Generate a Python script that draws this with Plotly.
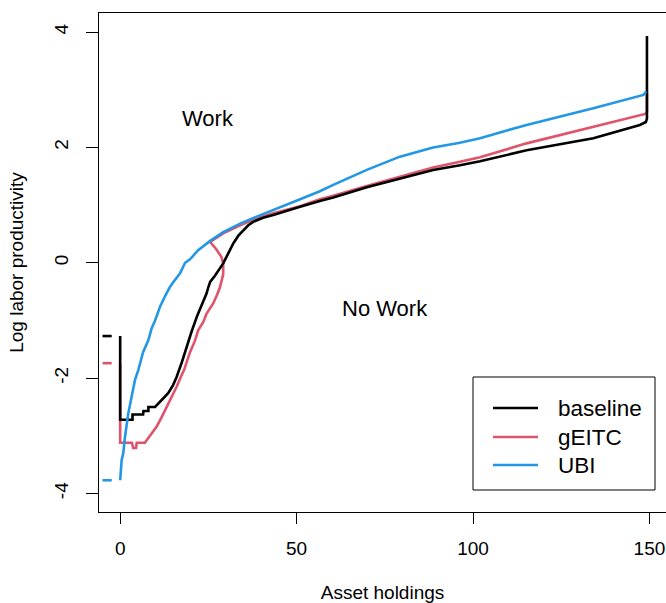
import plotly.graph_objects as go

# ---------------- data ----------------
dash_x = [-5.0, -2.4]

baseline_x = [0, 0, 3.5, 3.5, 6.5, 6.6, 8.0, 8.0, 9.9, 10.8, 12.2, 13.6, 15.0, 16.0, 17.5, 18.8,
              20.2, 21.7, 23.2, 24.5, 25.0, 25.5, 26.9, 29.2, 30.6, 32.1, 33.5, 34.9, 36.3, 37.7,
              40.5, 43.4, 48.1, 51.0, 56.6, 60.4, 69.9, 79.3, 88.7, 96.3, 102.0, 115.2, 134.1,
              147.3, 149.0, 149.3, 149.3]
baseline_y = [-1.27, -2.72, -2.72, -2.63, -2.63, -2.57, -2.57, -2.50, -2.50, -2.44, -2.35, -2.26,
              -2.12, -1.98, -1.72, -1.45, -1.20, -0.94, -0.72, -0.53, -0.42, -0.33, -0.22, -0.01,
              0.16, 0.34, 0.47, 0.57, 0.65, 0.71, 0.78, 0.83, 0.91, 0.97, 1.07, 1.13, 1.31, 1.46,
              1.61, 1.69, 1.76, 1.95, 2.16, 2.39, 2.44, 2.50, 3.93]
baseline_dash_y = -1.27

geitc_x = [0, 0, 3.3, 3.7, 4.5, 4.7, 7.0, 8.0, 8.9, 10.35, 11.8, 13.2, 14.6, 16.0, 17.4, 18.1,
           19.8, 21.2, 22.1, 23.6, 24.5, 26.4, 27.5, 28.3, 29.2, 29.2, 28.7, 27.2, 25.5, 29.2,
           34.0, 38.7, 43.4, 48.1, 51.0, 56.6, 60.4, 69.9, 79.3, 88.7, 96.3, 102.0, 115.2,
           134.1, 148.8, 149.3, 149.3]
geitc_y = [-1.74, -3.12, -3.12, -3.21, -3.21, -3.12, -3.12, -3.04, -2.96, -2.84, -2.67, -2.50,
           -2.32, -2.15, -1.95, -1.86, -1.55, -1.35, -1.17, -1.02, -0.88, -0.70, -0.55, -0.42,
           -0.20, -0.01, 0.10, 0.24, 0.36, 0.51, 0.65, 0.77, 0.86, 0.94, 0.98, 1.10, 1.16, 1.33,
           1.49, 1.65, 1.75, 1.83, 2.07, 2.35, 2.58, 2.62, 2.95]
geitc_dash_y = -1.74

ubi_x = [0, 0.42, 0.88, 1.36, 2.3, 3.26, 4.2, 5.13, 6.5, 8.0, 8.9, 9.9, 11.3, 12.7, 14.1, 15.5,
         17.0, 18.4, 19.8, 22.1, 25.5, 29.2, 34.0, 38.7, 43.4, 51.0, 56.6, 60.4, 69.9, 79.3,
         88.7, 96.3, 102.0, 115.2, 134.1, 148.3, 149.1]
ubi_y = [-3.77, -3.42, -3.30, -3.02, -2.61, -2.32, -2.03, -1.86, -1.55, -1.34, -1.14, -1.00,
         -0.76, -0.58, -0.42, -0.30, -0.18, 0.00, 0.06, 0.22, 0.38, 0.53, 0.68, 0.80, 0.91,
         1.10, 1.24, 1.35, 1.61, 1.84, 2.00, 2.08, 2.16, 2.39, 2.68, 2.91, 2.97]
ubi_dash_y = -3.77

series_names = ["baseline", "gEITC", "UBI"]
series_colors = ["#000000", "#DF536B", "#2297E6"]

x_ticks = [0, 50, 100, 150]
y_ticks = [-4, -2, 0, 2, 4]
y_tick_text = ["-4", "-2", "0", "2", "4"]

region_labels = ["Work", "No Work"]
region_x = [24.9, 75.1]
region_y = [2.50, -0.80]

# ---------------- figure ----------------
FONT = "Liberation Sans, Arial, Helvetica, sans-serif"
W, H = 666, 603
ML, MR, MT, MB = 99, 0, 13, 91
PW, PH = W - ML - MR, H - MT - MB

def px_x(p):  # screen pixel -> paper fraction
    return (p - ML) / PW

def px_y(p):
    return (H - MB - p) / PH

def with_dash(xs, ys, dy):
    return dash_x + [None] + list(xs), [dy, dy] + [None] + list(ys)

data = {
    "baseline": with_dash(baseline_x, baseline_y, baseline_dash_y),
    "gEITC": with_dash(geitc_x, geitc_y, geitc_dash_y),
    "UBI": with_dash(ubi_x, ubi_y, ubi_dash_y),
}

fig = go.Figure()
draw_order = ["gEITC", "baseline", "UBI"]
for name in draw_order:
    i = series_names.index(name)
    xs, ys = data[name]
    fig.add_trace(go.Scatter(
        x=xs, y=ys, mode="lines", name=name, showlegend=False,
        line=dict(color=series_colors[i], width=2.6),
        connectgaps=False,
    ))

for t, x, y in zip(region_labels, region_x, region_y):
    fig.add_annotation(x=x, y=y, text=t, showarrow=False,
                       font=dict(family=FONT, size=22, color="black"),
                       xanchor="center", yanchor="middle")

# legend box (R-style) drawn in paper coordinates
fig.add_shape(type="rect", xref="paper", yref="paper",
              x0=px_x(473), x1=px_x(655), y0=px_y(490), y1=px_y(377),
              line=dict(color="black", width=1), fillcolor="white", layer="above")
row_y = [408, 437, 465]
for i, name in enumerate(series_names):
    fig.add_shape(type="line", xref="paper", yref="paper",
                  x0=px_x(493), x1=px_x(538), y0=px_y(row_y[i]), y1=px_y(row_y[i]),
                  line=dict(color=series_colors[i], width=2.6), layer="above")
    fig.add_annotation(xref="paper", yref="paper", x=px_x(556), y=px_y(row_y[i]),
                       text=name, showarrow=False, xanchor="left", yanchor="middle",
                       font=dict(family=FONT, size=22.5, color="black"))

fig.update_layout(
    width=W, height=H,
    margin=dict(l=ML, r=MR, t=MT, b=MB, autoexpand=False),
    paper_bgcolor="white", plot_bgcolor="white",
    font=dict(family=FONT, size=19, color="black"),
    showlegend=False,
)

fig.update_xaxes(
    range=[-6.0, 154.7], tickvals=x_ticks, ticktext=[str(v) for v in x_ticks],
    showgrid=False, zeroline=False, automargin=False,
    showline=True, linecolor="black", linewidth=1.3, mirror=True,
    ticks="outside", ticklen=11, tickcolor="black", tickwidth=1,
    ticklabelstandoff=8,
    title=dict(text="Asset holdings", standoff=33, font=dict(size=19)),
)
fig.update_yaxes(
    range=[-4.32, 4.33], tickvals=y_ticks, ticktext=y_tick_text, tickangle=-90,
    showgrid=False, zeroline=False, automargin=False,
    showline=True, linecolor="black", linewidth=1.3, mirror=False,
    ticks="outside", ticklen=12, tickcolor="black", tickwidth=1,
    ticklabelstandoff=10,
    title=dict(text="Log labor productivity", standoff=22, font=dict(size=19)),
)

# remove the default page margin so the 666x603 figure fills the window exactly
fig.write_html(
    "out.html",
    config={"displayModeBar": False},
    post_script="document.body.style.margin='0';document.body.style.overflow='hidden';",
)
